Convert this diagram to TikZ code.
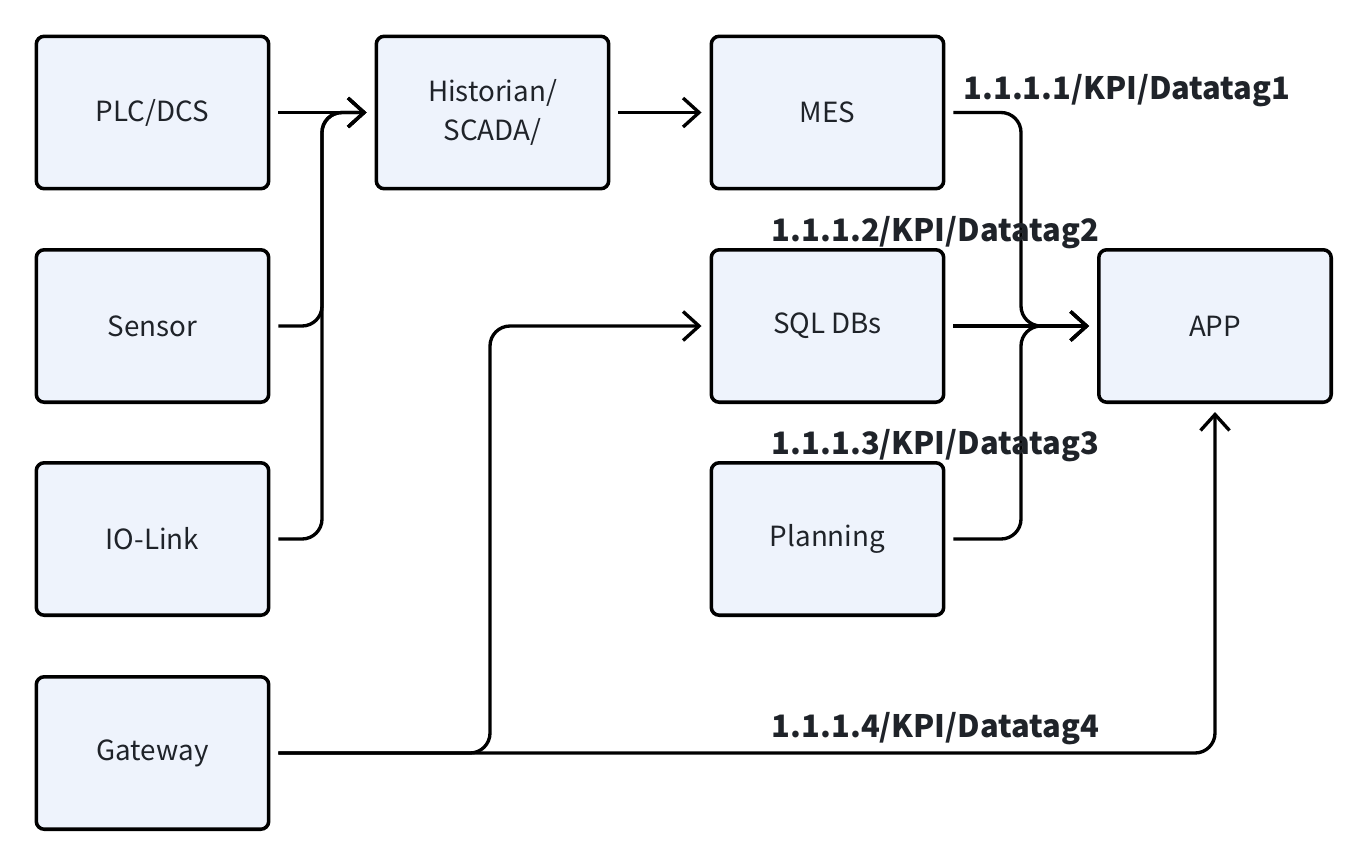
\documentclass[tikz,border=0pt]{standalone}
\usepackage{fontspec}
\setmainfont{Noto Sans CJK SC}
\usetikzlibrary{arrows.meta}

\definecolor{boxfill}{HTML}{EEF3FC}
\definecolor{inkgray}{HTML}{1F2329}

\tikzset{
    box/.style = {draw=black, line width=2pt, fill=boxfill, rounded corners=0.16cm,
        minimum width=4.65cm, minimum height=3.05cm, align=center, text=inkgray,
        font=\fontsize{15.8}{22}\selectfont},
    flow/.style = {line width=1.9pt, rounded corners=0.4cm, shorten <=0.16cm, shorten >=0.16cm,
        -{Straight Barb[length=0.32cm,width=0.58cm]}},
    tag/.style = {text=inkgray, font=\fontsize{17.6}{20}\selectfont\bfseries}
}

\begin{document}
\begin{tikzpicture}[x=0.02cm, y=-0.02cm]
    \useasboundingbox (0,0) rectangle (1362,846);

    \node[box] (plc) at (152.5,112.5) {PLC/DCS};
    \node[box] (sensor) at (152.5,326) {Sensor};
    \node[box] (iolink) at (152.5,539) {IO-Link};
    \node[box] (gateway) at (152.5,753) {Gateway};

    \node[box] (hist) at (492.5,112.5) {Historian/\\SCADA/};
    \node[box] (mes) at (827.5,112.5) {MES};
    \node[box] (sql) at (827.5,326) {SQL DBs};
    \node[box] (plan) at (827.5,539) {Planning};
    \node[box] (app) at (1215,326) {APP};

    \coordinate (busL) at (322,112.5);
    \coordinate (busR) at (1021,326);
    \coordinate (busG) at (490,753);

    \draw[flow] (plc.east) -- (hist.west);
    \draw[flow] (sensor.east) -| (busL) -- (hist.west);
    \draw[flow] (iolink.east) -| (busL) -- (hist.west);
    \draw[flow] (hist.east) -- (mes.west);

    \draw[flow] (mes.east) -| (busR) -- (app.west);
    \draw[flow] (sql.east) -- (app.west);
    \draw[flow] (plan.east) -| (busR) -- (app.west);

    \draw[flow] (gateway.east) -- (busG) |- (sql.west);
    \draw[flow] (gateway.east) -| (app.south);

    \node[tag] (tag1) at (1127,91) {1.1.1.1/KPI/Datatag1};
    \node[tag] (tag2) at (935.5,233) {1.1.1.2/KPI/Datatag2};
    \node[tag] (tag3) at (935.5,446) {1.1.1.3/KPI/Datatag3};
    \node[tag] (tag4) at (935.5,729) {1.1.1.4/KPI/Datatag4};
\end{tikzpicture}
\end{document}
